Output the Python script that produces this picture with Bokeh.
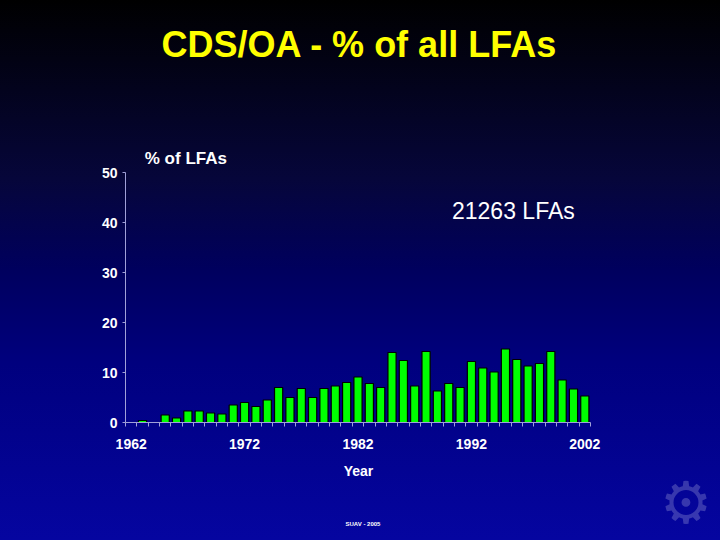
from bokeh.plotting import figure
from bokeh.models import Range1d, FixedTicker, Label, GlobalInlineStyleSheet
from bokeh.embed import file_html
from bokeh.resources import INLINE

# ---- data ----
years = list(range(1962, 2003))
pct_lfas = [0.0, 0.4, 0.0, 1.5, 0.9, 2.3, 2.3, 1.9, 1.7, 3.5,
            4.0, 3.2, 4.5, 7.0, 5.0, 6.8, 5.0, 6.8, 7.3, 8.0,
            9.1, 7.8, 7.0, 14.0, 12.4, 7.3, 14.2, 6.3, 7.8, 7.0,
            12.2, 10.9, 10.1, 14.7, 12.6, 11.3, 11.8, 14.2, 8.5, 6.7,
            5.3]
x_tick_labels = [1962, 1972, 1982, 1992, 2002]
y_ticks = [0, 10, 20, 30, 40, 50]
title_text = "CDS/OA - % of all LFAs"
total_text = "21263 LFAs"
y_title = "% of LFAs"
x_title = "Year"
footer_text = "SUAV - 2005"

FONT = "Liberation Sans"
AXIS_COL = "#a0a0d8"

css = GlobalInlineStyleSheet(css="""
html { background: linear-gradient(to bottom, #000000 0%, #06063a 33%, #00005e 50%, #00007e 67%, #0505a0 100%) fixed; min-height: 100%; overflow: hidden; }
body { background: transparent; margin: 0; overflow: hidden; }
""")

W, H = 720, 540
x0 = years[0] - 0.5          # left end of the category axis
x1 = years[-1] + 0.5         # right end
px_per_year = 465 / (x1 - x0)
px_per_pct = 250 / 50.0
xr = Range1d(x0 - 125 / px_per_year, x0 + (W - 125) / px_per_year)
yr = Range1d(-(H - 422) / px_per_pct, 422 / px_per_pct)

p = figure(width=W, height=H, output_backend="svg", toolbar_location=None,
           x_range=xr, y_range=yr,
           min_border_left=0, min_border_right=0, min_border_top=0, min_border_bottom=0)
p.stylesheets = [css]
p.title.visible = False
p.background_fill_color = None
p.border_fill_color = None
p.outline_line_color = None
p.grid.visible = False

p.vbar(x=years, top=pct_lfas, width=0.72, bottom=0,
       fill_color="#00ff00", line_color="#000000", line_width=1.2)

# x axis
xa = p.xaxis[0]
xa.fixed_location = 0
xa.bounds = (x0, x1)
xa.ticker = FixedTicker(ticks=x_tick_labels,
                        minor_ticks=[y - 0.5 for y in years] + [years[-1] + 0.5])
xa.axis_line_color = AXIS_COL
xa.major_tick_line_color = None
xa.major_tick_out = 0
xa.major_tick_in = 0
xa.minor_tick_line_color = AXIS_COL
xa.minor_tick_out = 4
xa.minor_tick_in = 0
xa.major_label_standoff = 12
xa.major_label_text_color = "white"
xa.major_label_text_font = FONT
xa.major_label_text_font_style = "bold"
xa.major_label_text_font_size = "14px"

# y axis
ya = p.yaxis[0]
ya.fixed_location = x0
ya.bounds = (0, 50)
ya.ticker = FixedTicker(ticks=y_ticks)
ya.axis_line_color = AXIS_COL
ya.major_tick_line_color = AXIS_COL
ya.major_tick_out = 3
ya.major_tick_in = 0
ya.minor_tick_line_color = None
ya.major_label_standoff = 5
ya.major_label_text_color = "white"
ya.major_label_text_font = FONT
ya.major_label_text_font_style = "bold"
ya.major_label_text_font_size = "14px"

def lab(text, x, y, size, color="white", bold=True, align="center", baseline="middle",
        alpha=1.0, font=FONT):
    p.add_layout(Label(x=x, y=y, text=text, text_font=font, text_font_size=size,
                       text_font_style="bold" if bold else "normal",
                       text_color=color, text_align=align, text_baseline=baseline,
                       text_alpha=alpha))

lab(title_text, 1982.13, 75.6, "36px", color="#ffff00")
lab(y_title, 1963.2, 52.8, "17px", align="left")
lab(total_text, 1995.7, 42.4, "23px", bold=False)
lab(x_title, 1982.04, -9.6, "14px")
lab(footer_text, 1982.44, -20.2, "6px")
lab("\u2699", 2010.9, -16.0, "58px", color="#b0b0e0", bold=False,
    alpha=0.3, font="DejaVu Sans")

open("out.html", "w").write(file_html(p, INLINE))
